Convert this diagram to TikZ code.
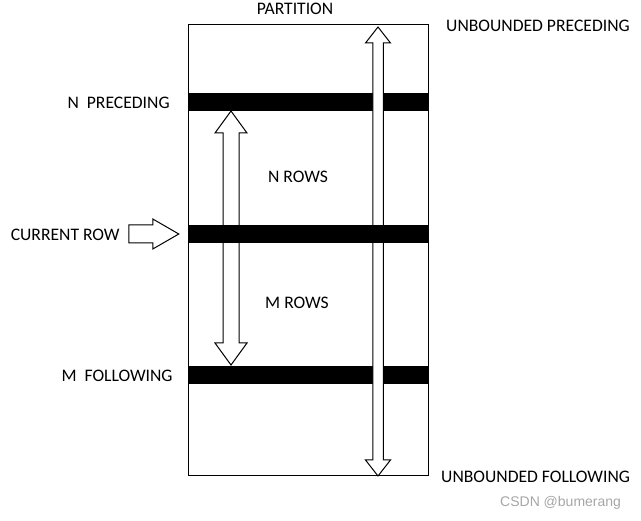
\documentclass[tikz,border=0pt]{standalone}
\usepackage{fontspec}
\setmainfont{Carlito}
\newfontfamily\wmfont{Liberation Sans}
\usetikzlibrary{positioning}
\usetikzlibrary{calc}
\tikzstyle{lbl} = [font=\fontsize{17.6}{20}\selectfont, inner sep=0pt, yshift=-1pt]
\tikzstyle{rowbar} = [fill=black, minimum width=240pt, minimum height=18pt, inner sep=0pt]
\tikzstyle{blockarr} = [draw=black, fill=white, line width=1pt, line join=miter]
% #1 top tip, #2 bottom tip, #3 half shaft, #4 half head, #5 head length
\newcommand{\vdblarrow}[5]{%
  \draw[blockarr] (#1) -- ++(#4,#5) -- ++(#3-#4,0) -- ($(#2)+(#3,-#5)$) -- ++(#4-#3,0)
    -- (#2) -- ++(-#4,-#5) -- ++(#4-#3,0) -- ($(#1)+(-#3,#5)$) -- ++(#3-#4,0) -- cycle;}

\begin{document}
\begin{tikzpicture}[x=1pt, y=-1pt]
\useasboundingbox (0,0) rectangle (641,521);

% Partition box and rows
\node[draw, line width=1pt, minimum width=240pt, minimum height=451pt, inner sep=0pt] (part) at (308,250.5) {};
\coordinate (rowstop) at (231,111);
\coordinate (rowsbot) at (231,365);
\vdblarrow{rowstop}{rowsbot}{8}{16}{22}
\node[rowbar] (nprec) at (308,102) {};
\node[rowbar] (mfoll) at (308,375) {};
\coordinate (unbtop) at (378,27);
\coordinate (unbbot) at (378,476);
\vdblarrow{unbtop}{unbbot}{5.25}{12.5}{16}
\node[rowbar] (crow) at (308,234) {};

% Current row pointer
\coordinate[left = 9pt of crow.west] (crowtip);
\coordinate[left = 50pt of crowtip] (crowtail);
\draw[blockarr] (crowtail) ++(0,-9) -- ++(24,0) -- ++(0,-6) -- (crowtip)
  -- ++(-26,15) -- ++(0,-6) -- ++(-24,0) -- cycle;

% Labels
\node[lbl] (parttxt) at (295,7.5) {PARTITION};
\node[lbl, left = 18pt of nprec.west] (nprectxt) {N\ \ PRECEDING};
\node[lbl, left = 15pt of mfoll.west] (mfolltxt) {M\ \ FOLLOWING};
\node[lbl, left = 9pt of crowtail] (crowtxt) {CURRENT ROW};
\node[lbl] (nrows) at (298,176) {N ROWS};
\node[lbl] (mrows) at (297,302) {M ROWS};
\node[lbl, anchor=west] (ubptxt) at (446,25) {UNBOUNDED PRECEDING};
\node[lbl, anchor=west] (ubftxt) at (441,476) {UNBOUNDED FOLLOWING};
\node[font=\wmfont\fontsize{14}{16}\selectfont, text=gray!70, anchor=west, inner sep=0pt] (wmark) at (500,503) {CSDN @bumerang};
\end{tikzpicture}
\end{document}
